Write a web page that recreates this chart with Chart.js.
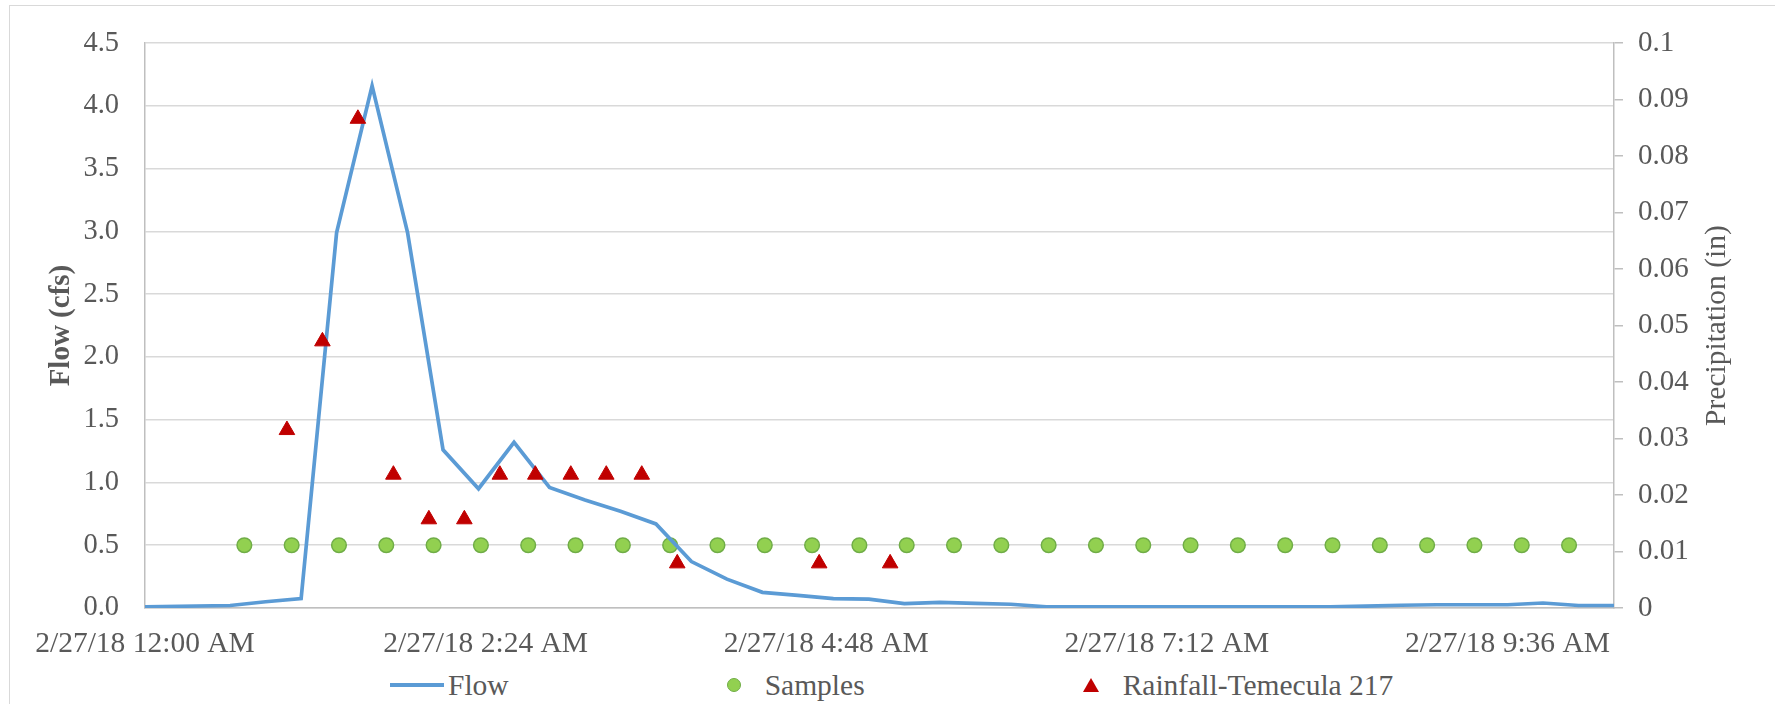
<!DOCTYPE html>
<html>
<head>
<meta charset="utf-8">
<title>Flow, Samples and Rainfall - 2/27/18</title>
<script src="https://cdn.jsdelivr.net/npm/chart.js@4.4.1/dist/chart.umd.min.js"></script>
<style>
  html, body { margin: 0; padding: 0; background: #fff; }
  body { position: relative; width: 1775px; height: 704px; overflow: hidden;
         font-family: "Liberation Serif", "Times New Roman", serif; color: #595959; }
  #frame { position: absolute; left: 9px; top: 5px; width: 1780px; height: 710px;
           border-left: 1.5px solid #d9d9d9; border-top: 1.5px solid #d9d9d9; }
  #chartBox { position: absolute; left: 0; top: 0; width: 1775px; height: 660px; }
  #legend { position: absolute; left: 390px; top: 666px; height: 38px; display: flex;
            align-items: center; font-size: 29.5px; line-height: 38px; white-space: nowrap; }
  .item { display: flex; align-items: center; margin-right: 218px; }
  .item:last-child { margin-right: 0; }
  .mark-line { width: 54px; height: 3.5px; margin-right: 4px; }
  .mark-circle { width: 12px; height: 12px; border-radius: 50%; border: 1.5px solid; margin-right: 24px; }
  .mark-tri { width: 0; height: 0; border-left: 8px solid transparent; border-right: 8px solid transparent;
              border-bottom: 14px solid; margin-right: 24px; }
</style>
</head>
<body>
<div id="frame"></div>
<div id="chartBox"><canvas id="flowChart"></canvas></div>
<div id="legend"></div>
<script>
// x values are minutes after midnight on 2/27/18
const xMax = 621;
const xTickMinutes = [0, 144, 288, 432, 576];
const xTickLabels = ['2/27/18 12:00 AM', '2/27/18 2:24 AM', '2/27/18 4:48 AM', '2/27/18 7:12 AM', '2/27/18 9:36 AM'];

const flowTimes = [0, 36, 51, 66, 81, 96, 111, 126, 141, 156, 171, 186, 201, 216, 231, 246, 261, 276, 291, 306,
                   321, 336, 351, 366, 381, 396, 411, 426, 441, 456, 471, 486, 501, 516, 531, 546, 561, 576,
                   591, 606, 621];
const flowValues = [0.01, 0.02, 0.05, 0.075, 2.99, 4.16, 2.99, 1.26, 0.95, 1.32, 0.96, 0.86, 0.77, 0.67, 0.37,
                    0.23, 0.125, 0.10, 0.075, 0.07, 0.035, 0.045, 0.037, 0.03, 0.01, 0.01, 0.01, 0.01, 0.01,
                    0.01, 0.01, 0.01, 0.01, 0.015, 0.022, 0.026, 0.026, 0.026, 0.04, 0.02, 0.02];

const sampleTimes = [42, 62, 82, 102, 122, 142, 162, 182, 202, 222, 242, 262, 282, 302, 322, 342, 362, 382,
                     402, 422, 442, 462, 482, 502, 522, 542, 562, 582, 602];
const sampleValues = [0.5, 0.5, 0.5, 0.5, 0.5, 0.5, 0.5, 0.5, 0.5, 0.5, 0.5, 0.5, 0.5, 0.5, 0.5, 0.5, 0.5, 0.5,
                      0.5, 0.5, 0.5, 0.5, 0.5, 0.5, 0.5, 0.5, 0.5, 0.5, 0.5];

const rainTimes = [60, 75, 90, 105, 120, 135, 150, 165, 180, 195, 210, 225, 285, 315];
const rainValues = [0.0315, 0.0472, 0.0866, 0.0236, 0.0157, 0.0157, 0.0236, 0.0236, 0.0236, 0.0236, 0.0236,
                    0.0079, 0.0079, 0.0079];

const flowTitle = 'Flow (cfs)';
const precipTitle = 'Precipitation (in)';
const textColor = '#595959';
const fontFamily = '"Liberation Serif", "Times New Roman", serif';

function points(xs, ys) {
    return xs.map((x, i) => ({ x: x, y: ys[i] }));
}

// Chart.js puts right-hand titles top-to-bottom; this one reads upward like the original
const rightTitle = {
    id: 'rightTitle',
    afterDraw(chart) {
        const s = chart.scales.y1;
        const area = chart.chartArea;
        const ctx = chart.ctx;
        ctx.save();
        ctx.translate(s.right - 58, (area.top + area.bottom) / 2);
        ctx.rotate(-Math.PI / 2);
        ctx.font = '29.5px ' + fontFamily;
        ctx.fillStyle = textColor;
        ctx.textAlign = 'center';
        ctx.textBaseline = 'middle';
        ctx.fillText(precipTitle, 0, 0);
        ctx.restore();
    }
};

const config = {
    type: 'scatter',
    data: {
        datasets: [{
            label: 'Flow',
            data: points(flowTimes, flowValues),
            showLine: true,
            borderColor: '#5b9bd5',
            backgroundColor: '#5b9bd5',
            borderWidth: 3.7,
            pointRadius: 0,
            tension: 0,
            yAxisID: 'y',
            order: 1
        }, {
            label: 'Samples',
            data: points(sampleTimes, sampleValues),
            pointStyle: 'circle',
            pointRadius: 7.3,
            backgroundColor: '#92d050',
            borderColor: '#70ad47',
            borderWidth: 1.5,
            yAxisID: 'y',
            order: 2
        }, {
            label: 'Rainfall-Temecula 217',
            data: points(rainTimes, rainValues),
            pointStyle: 'triangle',
            pointRadius: 9,
            backgroundColor: '#c00000',
            borderColor: '#c00000',
            borderWidth: 1,
            yAxisID: 'y1',
            order: 0
        }]
    },
    options: {
        responsive: true,
        maintainAspectRatio: false,
        animation: false,
        layout: { padding: { top: 41, left: 0, right: 0, bottom: 0 } },
        plugins: {
            legend: { display: false },
            tooltip: { enabled: true }
        },
        scales: {
            x: {
                type: 'linear',
                min: 0,
                max: xMax,
                afterBuildTicks: function(scale) {
                    scale.ticks = xTickMinutes.map(v => ({ value: v }));
                },
                afterFit: function(scale) { scale.height = 52; },
                grid: { display: false },
                border: { display: true, color: '#bfbfbf', width: 1.5 },
                ticks: {
                    callback: (value, index) => xTickLabels[index],
                    color: textColor,
                    font: { family: fontFamily, size: 29.5 },
                    padding: 11,
                    maxRotation: 0,
                    autoSkip: false
                }
            },
            y: {
                position: 'left',
                min: 0,
                max: 4.5,
                afterFit: function(scale) { scale.width = 145; },
                grid: { color: '#d9d9d9', lineWidth: 1.5, drawTicks: false },
                border: { display: true, color: '#bfbfbf', width: 1.5 },
                ticks: {
                    stepSize: 0.5,
                    callback: v => v.toFixed(1),
                    color: textColor,
                    font: { family: fontFamily, size: 28.5 },
                    padding: 26
                },
                title: {
                    display: true,
                    text: flowTitle,
                    color: textColor,
                    font: { family: fontFamily, size: 29, weight: 'bold' },
                    padding: { top: 44, bottom: 0 }
                }
            },
            y1: {
                position: 'right',
                min: 0,
                max: 0.1,
                afterFit: function(scale) { scale.width = 161; },
                grid: { drawOnChartArea: false, drawTicks: true, tickLength: 9, color: '#bfbfbf', lineWidth: 1.5 },
                border: { display: true, color: '#bfbfbf', width: 1.5 },
                ticks: {
                    stepSize: 0.01,
                    callback: v => String(+v.toFixed(2)),
                    color: textColor,
                    font: { family: fontFamily, size: 29 },
                    padding: 15
                }
            }
        }
    },
    plugins: [rightTitle]
};

window.onload = function() {
    const ctx = document.getElementById('flowChart').getContext('2d');
    const chart = new Chart(ctx, config);

    // legend below the chart, spaced like the original
    const legend = document.getElementById('legend');
    const shapes = ['mark-line', 'mark-circle', 'mark-tri'];
    chart.data.datasets.forEach((ds, i) => {
        const item = document.createElement('div');
        item.className = 'item';
        const mark = document.createElement('span');
        mark.className = shapes[i];
        if (i === 0) mark.style.background = ds.borderColor;
        if (i === 1) { mark.style.background = ds.backgroundColor; mark.style.borderColor = ds.borderColor; }
        if (i === 2) mark.style.borderBottomColor = ds.backgroundColor;
        const text = document.createElement('span');
        text.textContent = ds.label;
        item.appendChild(mark);
        item.appendChild(text);
        legend.appendChild(item);
    });
};
</script>
</body>
</html>
